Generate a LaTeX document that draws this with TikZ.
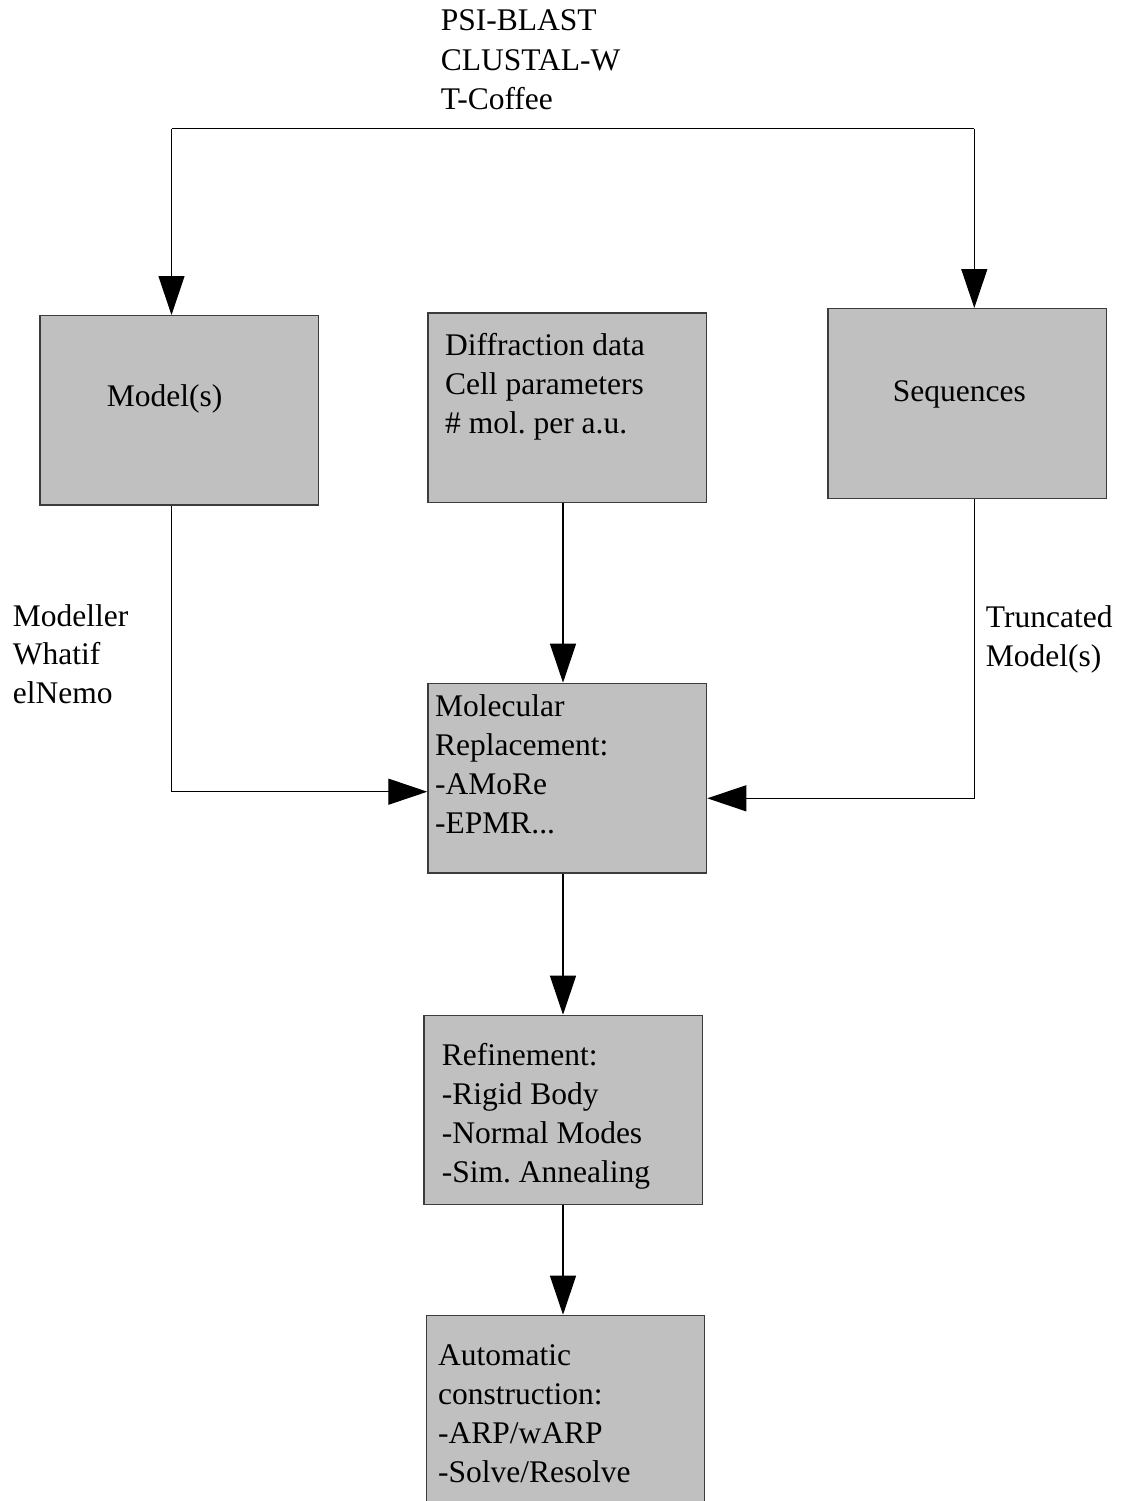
\documentclass[tikz,border=0pt]{standalone}
\usepackage{fontspec}
\setmainfont{Liberation Serif}
\usetikzlibrary{arrows.meta}
\definecolor{boxfill}{RGB}{192,192,192}
\definecolor{boxline}{RGB}{60,60,60}
\frenchspacing
\newcommand{\Ln}[1]{\hbox{#1}}
\newcommand{\Stack}[2][39]{\vtop{\baselineskip=#1pt\lineskiplimit=-100pt\lineskip=0pt #2}}
\begin{document}
\begin{tikzpicture}[x=1pt,y=-1pt,
  box/.style={draw=boxline, fill=boxfill, line width=1.3pt, rectangle, inner sep=0pt, anchor=north west},
  lbl/.style={anchor=base west, inner sep=0pt, font=\fontsize{31.5}{39}\selectfont},
  conn/.style={line width=1.2pt},
  arr/.style={line width=1.2pt, -{Triangle[length=39pt,width=26pt]}}]
\clip (0,0) rectangle (1122,1501);
\fill[white] (0,0) rectangle (1122,1501);
% boxes
\node[box, minimum width=278.4pt, minimum height=189.3pt] (models) at (39.3,315) {};
\node[box, minimum width=278.7pt, minimum height=189.7pt] (diff) at (427.3,312.3) {};
\node[box, minimum width=278.4pt, minimum height=189.7pt] (seq) at (827.3,308) {};
\node[box, minimum width=278.7pt, minimum height=189.6pt] (mr) at (427.3,682.7) {};
\node[box, minimum width=278.7pt, minimum height=189.3pt] (ref) at (423.3,1014.7) {};
\node[box, minimum width=278.3pt, minimum height=260pt] (auto) at (425.7,1314.7) {};
% texts
\node[lbl] (tools) at (440.7,30.5) {\Stack[39.7]{\Ln{PSI-BLAST}\Ln{CLUSTAL-W}\Ln{T-Coffee}}};
\node[lbl] (modtxt) at (106.7,406) {Model(s)};
\node[lbl] (difftxt) at (445,355) {\Stack{\Ln{Diffraction data}\Ln{Cell parameters}\Ln{\# mol. per a.u.}}};
\node[lbl] (seqtxt) at (892.7,401.7) {Sequences};
\node[lbl] (prog) at (12.7,626) {\Stack[38.6]{\Ln{Modeller}\Ln{Whatif}\Ln{elNemo}}};
\node[lbl] (trunc) at (985.7,627.7) {\Stack{\Ln{Truncated}\Ln{Model(s)}}};
\node[lbl] (mrtxt) at (435,716) {\Stack{\Ln{Molecular}\Ln{Replacement:}\Ln{-AMoRe}\Ln{-EPMR...}}};
\node[lbl] (reftxt) at (441.7,1065) {\Stack{\Ln{Refinement:}\Ln{-Rigid Body}\Ln{-Normal Modes}\Ln{-Sim. Annealing}}};
\node[lbl] (autotxt) at (438,1365.7) {\Stack{\Ln{Automatic}\Ln{construction:}\Ln{-ARP/wARP}\Ln{-Solve/Resolve}}};
% connectors
\coordinate (tl) at (171.5,128.7);
\coordinate (tr) at (974.3,128.7);
\draw[conn] (tl) -- (tr);
\draw[arr] (tl) -- (tl |- models.north);
\draw[arr] (tr) -- (tr |- seq.north);
\coordinate (ml) at (171.5,791.7);
\draw[arr] (ml |- models.south) -- (ml) -- (ml -| mr.west);
\coordinate (mrr) at (974.3,798.3);
\draw[arr] (mrr |- seq.south) -- (mrr) -- (mrr -| mr.east);
\coordinate (cx) at (563,0);
\draw[arr] (cx |- diff.south) -- (cx |- mr.north);
\draw[arr] (cx |- mr.south) -- (cx |- ref.north);
\draw[arr] (cx |- ref.south) -- (cx |- auto.north);
\end{tikzpicture}
\end{document}
